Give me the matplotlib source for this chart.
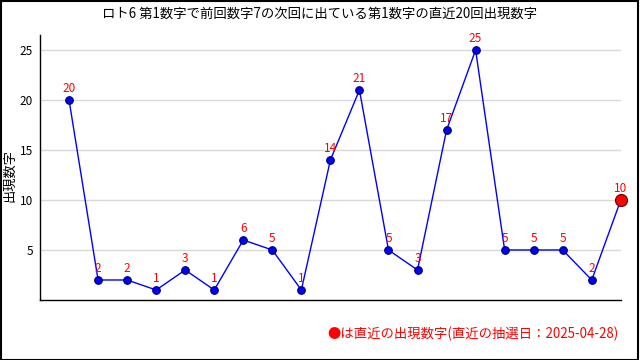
import matplotlib.pyplot as plt
from matplotlib.patches import Rectangle

plt.rcParams['font.family'] = ['Noto Sans CJK JP', 'DejaVu Sans']

values = [20, 2, 2, 1, 3, 1, 6, 5, 1, 14, 21, 5, 3, 17, 25, 5, 5, 5, 2, 10]
title = "ロト6 第1数字で前回数字7の次回に出ている第1数字の直近20回出現数字"
note = "●は直近の出現数字(直近の抽選日：2025-04-28)"

fig = plt.figure(figsize=(6.4, 3.6), dpi=100)
ax = fig.add_axes([0.0625, 0.1667, 0.9075, 0.736])

x = list(range(len(values)))
ax.plot(x, values, color='blue', linewidth=1, zorder=2)
ax.scatter(x[:-1], values[:-1], s=30, color='blue', edgecolors='#000066',
           linewidths=0.8, zorder=3, clip_on=False)
ax.scatter(x[-1:], values[-1:], s=75, color='red', edgecolors='#660000',
           linewidths=0.8, zorder=3, clip_on=False)

for xi, v in zip(x, values):
    ax.text(xi, v + 0.5, str(v), color='red', fontsize=8.5,
            ha='center', va='bottom', zorder=4)

ax.set_xlim(-1, 19)
ax.set_ylim(0, 26.5)
ax.set_yticks([5, 10, 15, 20, 25])
ax.set_xticks([])
ax.tick_params(axis='y', length=0, labelsize=8.5, pad=5)
ax.grid(axis='y', color='#d8d8d8', linewidth=1)
ax.set_axisbelow(True)
for s in ['top', 'right']:
    ax.spines[s].set_visible(False)
for s in ['left', 'bottom']:
    ax.spines[s].set_linewidth(1)
ax.set_ylabel("出現数字", fontsize=9.5, va='center')
ax.yaxis.set_label_coords(-0.052, 0.47)

fig.text(0.5, 0.963, title, ha='center', va='center', fontsize=9.6)
fig.text(0.966, 0.072, note, ha='right', va='center', fontsize=9.6, color='red')

fig.patches.append(Rectangle((0.001, 0.001), 0.996, 0.996, transform=fig.transFigure,
                             fill=False, edgecolor='black', linewidth=1.5))

fig.savefig('out.png', dpi=100)
